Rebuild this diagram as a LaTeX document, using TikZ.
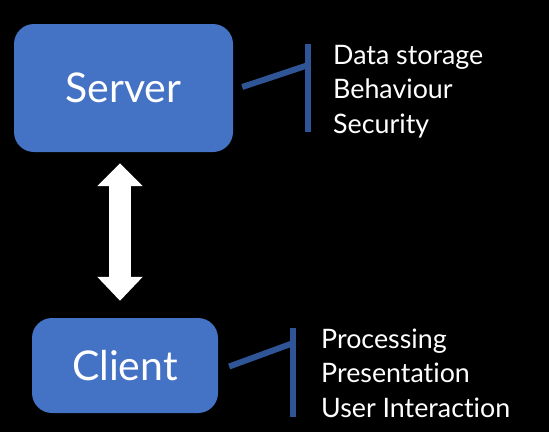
\documentclass[tikz,border=0pt]{standalone}
\usepackage{fontspec}
\setmainfont{Lato}[Ligatures=NoCommon]
\usetikzlibrary{arrows.meta,calc}
\definecolor{boxblue}{HTML}{4472C4}
\definecolor{linkblue}{HTML}{2F5597}

\begin{document}
\begin{tikzpicture}[x=1pt,y=-1pt,
    box/.style={fill=boxblue,rounded corners=20pt,text=white,font=\fontsize{41}{48}\selectfont},
    items/.style={text=white,align=left,inner sep=0pt,anchor=base west,font=\fontsize{26.8}{34.5}\selectfont},
    link/.style={linkblue,line width=6pt}]
  \fill[black] (0,0) rectangle (549,432);
  \useasboundingbox (0,0) rectangle (549,432);
  \node[box,minimum width=219pt,minimum height=128pt] (server) at (123.5,88) {Server};
  \node[box,minimum width=186pt,minimum height=95pt] (client) at (125,365.5) {Client};
  \coordinate (srvtop) at (308,44);
  \coordinate (srvbot) at (308,132);
  \coordinate (clitop) at (293,328);
  \coordinate (clibot) at (293,417);
  \draw[link] (srvtop) -- (srvbot);
  \draw[link] (clitop) -- (clibot);
  \draw[link] ($(server.east)+(9,-1)$) -- ($(srvtop)!0.24!(srvbot)$);
  \draw[link] ($(client.east)+(11,1)$) -- ($(clitop)!0.17!(clibot)$);
  \node[items] (srvlist) at (333,133) {Data storage\\Behaviour\\Security};
  \node[items] (clilist) at (321,417) {Processing\\Presentation\\User Interaction};
  \draw[white,line width=22pt,{Triangle[length=23pt,width=44pt]}-{Triangle[length=24pt,width=44pt]},
    shorten <=11pt,shorten >=17pt] (server.south -| 120,0) -- (client.north -| 120,0);
\end{tikzpicture}
\end{document}
